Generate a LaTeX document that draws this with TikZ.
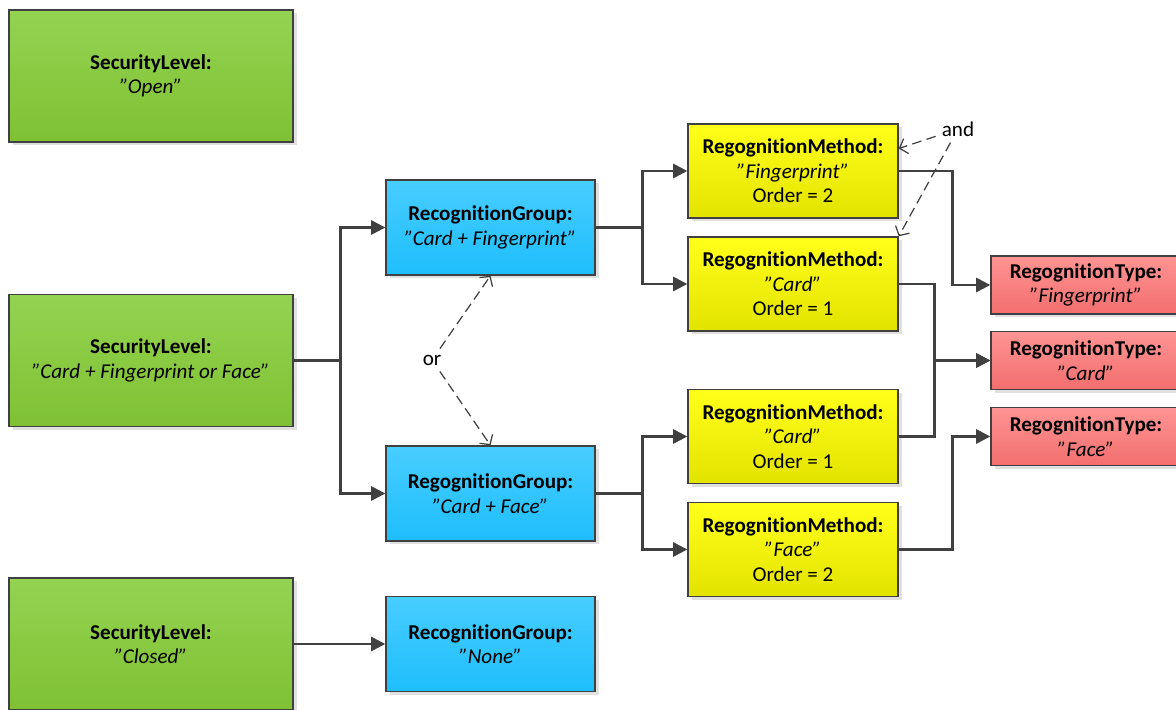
\documentclass[tikz,border=0pt]{standalone}
\usepackage{fontspec}
\setmainfont[Ligatures={NoCommon}]{Carlito}
\usetikzlibrary{arrows.meta,shadows}

\definecolor{lineclr}{HTML}{404040}
\definecolor{lvltop}{HTML}{94D352}
\definecolor{lvlbot}{HTML}{7FC133}
\definecolor{grptop}{HTML}{48CDFF}
\definecolor{grpbot}{HTML}{1EBEFC}
\definecolor{mtdtop}{HTML}{FFFF1A}
\definecolor{mtdbot}{HTML}{E3E300}
\definecolor{typtop}{HTML}{FF9494}
\definecolor{typbot}{HTML}{F26E6E}

\begin{document}
\begin{tikzpicture}[
    box/.style={draw=lineclr, line width=0.8pt, align=center, inner sep=0pt,
      font=\fontsize{12}{13.9}\selectfont,
      drop shadow={shadow xshift=0.07cm, shadow yshift=-0.07cm, opacity=0.12, fill=black}},
    level/.style={box, minimum width=5.68cm, minimum height=2.64cm, top color=lvltop, bottom color=lvlbot},
    group/.style={box, minimum width=4.18cm, minimum height=1.9cm, top color=grptop, bottom color=grpbot},
    method/.style={box, minimum width=4.2cm, minimum height=1.88cm, top color=mtdtop, bottom color=mtdbot},
    rtype/.style={box, minimum width=3.8cm, minimum height=1.16cm, top color=typtop, bottom color=typbot},
    conn/.style={draw=lineclr, line width=1.4pt, -{Triangle[length=8pt,width=8pt]}},
    dashlink/.style={draw=lineclr, line width=0.7pt, dash pattern=on 5.5pt off 3pt,
      -{Straight Barb[length=4pt,width=9pt]}},
    lbl/.style={font=\fontsize{12}{13.9}\selectfont}
  ]
      \useasboundingbox (0,0) rectangle (23.52,14.2);

      % security levels
      \node[level] (L1) at (3.02cm,12.68cm) {\textbf{SecurityLevel:}\\\textit{”Open”}};
      \node[level] (L2) at (3.02cm,6.99cm)  {\textbf{SecurityLevel:}\\\textit{”Card + Fingerprint or Face”}};
      \node[level] (L3) at (3.02cm,1.32cm)  {\textbf{SecurityLevel:}\\\textit{”Closed”}};

      % recognition groups
      \node[group] (G1) at (9.81cm,9.65cm) {\textbf{RecognitionGroup:}\\\textit{”Card + Fingerprint”}};
      \node[group] (G2) at (9.81cm,4.33cm) {\textbf{RegognitionGroup:}\\\textit{”Card + Face”}};
      \node[group] (G3) at (9.81cm,1.32cm) {\textbf{RecognitionGroup:}\\\textit{”None”}};

      % recognition methods
      \node[method] (M1) at (15.86cm,10.78cm) {\textbf{RegognitionMethod:}\\\textit{”Fingerprint”}\\Order = 2};
      \node[method] (M2) at (15.86cm,8.52cm)  {\textbf{RegognitionMethod:}\\\textit{”Card”}\\Order = 1};
      \node[method] (M3) at (15.86cm,5.47cm)  {\textbf{RegognitionMethod:}\\\textit{”Card”}\\Order = 1};
      \node[method] (M4) at (15.86cm,3.21cm)  {\textbf{RegognitionMethod:}\\\textit{”Face”}\\Order = 2};

      % recognition types
      \node[rtype] (T1) at (21.72cm,8.5cm)  {\textbf{RegognitionType:}\\\textit{”Fingerprint”}};
      \node[rtype] (T2) at (21.72cm,6.99cm) {\textbf{RegognitionType:}\\\textit{”Card”}};
      \node[rtype] (T3) at (21.72cm,5.47cm) {\textbf{RegognitionType:}\\\textit{”Face”}};

      \node[lbl] (andlbl) at (19.16cm,11.62cm) {and};
      \node[lbl] (orlbl)  at (8.64cm,7.0cm)    {or};

      \draw[conn] (L2.east) -- ++(0.94,0) |- (G1.west);
      \draw[conn] (L2.east) -- ++(0.94,0) |- (G2.west);
      \draw[conn] (L3.east) -- (G3.west);

      \draw[conn] (G1.east) -- ++(0.94,0) |- (M1.west);
      \draw[conn] (G1.east) -- ++(0.94,0) |- (M2.west);
      \draw[conn] (G2.east) -- ++(0.94,0) |- (M3.west);
      \draw[conn] (G2.east) -- ++(0.94,0) |- (M4.west);

      \draw[conn] (M1.east) -- ++(1.08,0) |- (T1.west);
      \draw[conn] (M2.east) -- ++(0.72,0) |- (T2.west);
      \draw[conn] (M3.east) -- ++(0.72,0) |- (T2.west);
      \draw[conn] (M4.east) -- ++(1.08,0) |- (T3.west);

      \draw[dashlink] (andlbl) -- (M1.12);
      \draw[dashlink] (andlbl) -- (M2.north east);
      \draw[dashlink] (orlbl) -- (G1.south);
      \draw[dashlink] (orlbl) -- (G2.north);
    \end{tikzpicture}
\end{document}
